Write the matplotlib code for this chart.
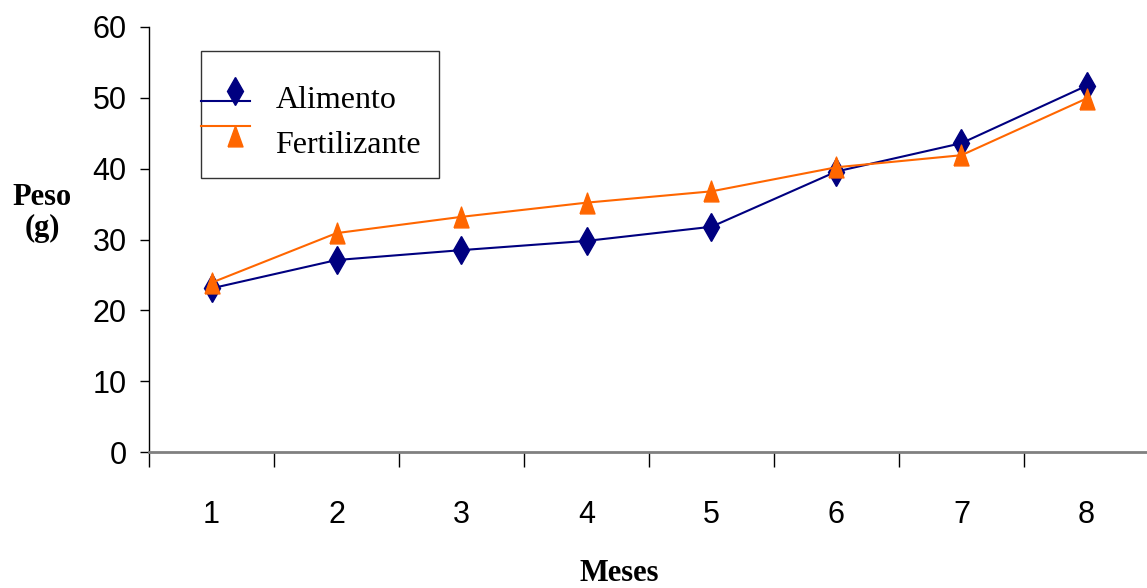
import matplotlib.pyplot as plt
from matplotlib.ticker import FixedLocator
from matplotlib.legend_handler import HandlerLine2DCompound

# data
meses = [1, 2, 3, 4, 5, 6, 7, 8]
alimento = [23.1, 27.1, 28.5, 29.8, 31.8, 39.6, 43.6, 51.7]
fertilizante = [23.9, 30.9, 33.2, 35.2, 36.8, 40.2, 41.9, 49.9]
yticks = [0, 10, 20, 30, 40, 50, 60]

serif = ['Liberation Serif', 'DejaVu Serif']
sans = ['Liberation Sans', 'DejaVu Sans']

# tall triangle marker
tri = [(-0.72, -1.0), (0.72, -1.0), (0.0, 1.0), (-0.72, -1.0)]


class OffsetHandler(HandlerLine2DCompound):
    # excel style legend key: line and marker not on the same height
    def __init__(self, line_dy, marker_dy, marker_dx, ext, **kw):
        super().__init__(**kw)
        self.line_dy = line_dy
        self.marker_dy = marker_dy
        self.marker_dx = marker_dx
        self.ext = ext

    def create_artists(self, legend, orig_handle, xdescent, ydescent,
                       width, height, fontsize, trans):
        legline, legmarker = super().create_artists(
            legend, orig_handle, xdescent, ydescent, width, height,
            fontsize, trans)
        x = legline.get_xdata()
        y = legline.get_ydata()
        legline.set_xdata([x[0] - self.ext, x[-1]])
        legline.set_ydata([y[0] + self.line_dy, y[0] + self.line_dy])
        my = legmarker.get_ydata()
        legmarker.set_xdata([x[0] + self.marker_dx])
        legmarker.set_ydata([my[0] + self.marker_dy])
        return [legline, legmarker]


fig = plt.figure(figsize=(11.47, 5.88), dpi=100)
ax = fig.add_axes([149 / 1147, 1 - 452 / 588, 1 - 149 / 1147, (452 - 27) / 588])

l1, = ax.plot(meses, alimento, color='#000080', lw=1.5, marker='d',
              markersize=14, label='Alimento')
l2, = ax.plot(meses, fertilizante, color='#FF6600', lw=1.5, marker=tri,
              markersize=15, label='Fertilizante')

# axes look
ax.set_xlim(0.5, 8.484)
ax.set_ylim(0, 60)
for s in ['top', 'right']:
    ax.spines[s].set_visible(False)
ax.spines['left'].set_color('black')
ax.spines['left'].set_linewidth(1.0)
ax.spines['bottom'].set_color('#808080')
ax.spines['bottom'].set_linewidth(2.0)

ax.set_yticks(yticks)
ax.tick_params(axis='y', direction='out', length=6.5, width=1, pad=9.5,
               labelsize=22)
for t in ax.get_yticklabels():
    t.set_family(sans)

# ticks between categories, labels at categories
ax.xaxis.set_major_locator(FixedLocator([i + 0.5 for i in range(0, 9)]))
ax.xaxis.set_major_formatter(plt.NullFormatter())
ax.set_xticks(meses, [str(m) for m in meses], minor=True)
ax.tick_params(axis='x', which='major', direction='out', length=11, width=1)
ax.tick_params(axis='x', which='minor', length=0, pad=34.5, labelsize=22)
for t in ax.get_xticklabels(minor=True):
    t.set_family(sans)

# labels
fig.text(42 / 1147, 1 - 213 / 588, 'Peso\n(g)', ha='center', va='center',
         fontsize=22, fontweight='bold', family=serif, linespacing=1.1)
fig.text(619 / 1147, 1 - 581 / 588, 'Meses', ha='center', va='baseline',
         fontsize=22, fontweight='bold', family=serif)

# tiny blank title only to get more room above the first entry
leg = ax.legend(loc='upper left',
                bbox_to_anchor=((201 - 149) / 998, (452 - 51) / 425),
                prop={'family': serif, 'size': 23}, frameon=True,
                title=' ', title_fontsize=1,
                fancybox=False, edgecolor='black', borderpad=0.55,
                handlelength=0.97, labelspacing=0.5, handletextpad=0.81,
                numpoints=1, borderaxespad=0,
                handler_map={l1: OffsetHandler(-2.9, 4.0, 11.5, 12.5),
                             l2: OffsetHandler(11.7, 4.7, 11.5, 12.5)})
leg.get_frame().set_linewidth(1.0)

fig.savefig('out.png', dpi=100)
